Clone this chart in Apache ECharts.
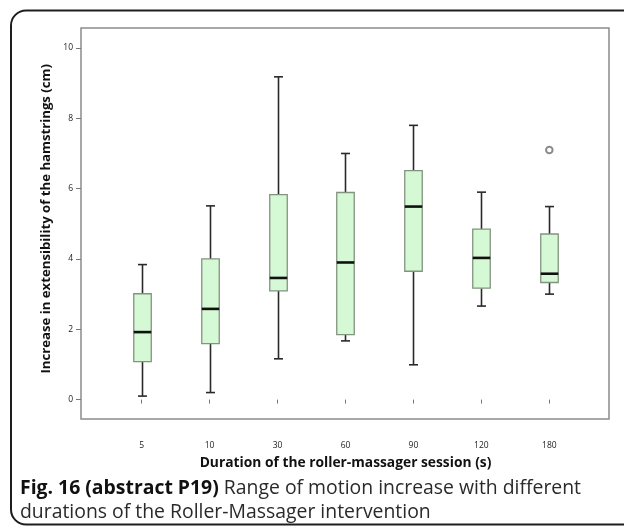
<!DOCTYPE html>
<html>
<head>
<meta charset="utf-8">
<script src="https://cdn.jsdelivr.net/npm/echarts@6/dist/echarts.min.js"></script>
<style>
  html, body { margin: 0; padding: 0; background: #fff; }
  #chart { width: 624px; height: 526px; }
</style>
</head>
<body>
<div id="chart"></div>
<script>
// ---- data ----
const categories = ['5', '10', '30', '60', '90', '120', '180'];
const lowerWhisker = [0.10, 0.20, 1.16, 1.67, 0.99, 2.66, 3.00];
const q1Values     = [1.08, 1.59, 3.09, 1.85, 3.65, 3.17, 3.33];
const medianValues = [1.92, 2.58, 3.46, 3.90, 5.49, 4.03, 3.58];
const q3Values     = [3.01, 4.00, 5.83, 5.89, 6.51, 4.85, 4.71];
const upperWhisker = [3.84, 5.51, 9.18, 7.00, 7.80, 5.90, 5.49];
const outlierCategory = ['180'];
const outlierValues = [7.10];
const yTicks = [0, 2, 4, 6, 8, 10];

const xTitle = 'Duration of the roller-massager session (s)';
const yTitle = 'Increase in extensibility of the hamstrings (cm)';
const captionBold = 'Fig. 16 (abstract P19)';
const captionLine1 = ' Range of motion increase with different';
const captionLine2 = 'durations of the Roller-Massager intervention';

// ---- build ----
const boxData = categories.map((c, i) => [i, lowerWhisker[i], q1Values[i], medianValues[i], q3Values[i], upperWhisker[i]]);
const outlierData = outlierCategory.map((c, i) => [categories.indexOf(c), outlierValues[i]]);

const chart = echarts.init(document.getElementById('chart'), null, { renderer: 'canvas' });
const FONT = "'Open Sans', 'DejaVu Sans', sans-serif";

function renderBox(params, api) {
  const idx = api.value(0);
  const pLow = api.coord([idx, api.value(1)]);
  const pQ1 = api.coord([idx, api.value(2)]);
  const pMed = api.coord([idx, api.value(3)]);
  const pQ3 = api.coord([idx, api.value(4)]);
  const pHigh = api.coord([idx, api.value(5)]);
  const cx = Math.round(pLow[0]) + 0.5;
  const boxW = 17.5, capW = 9;
  const whisk = { stroke: '#2a2a2a', lineWidth: 1.6 };
  return {
    type: 'group',
    children: [
      { type: 'line', shape: { x1: cx, y1: pLow[1], x2: cx, y2: pQ1[1] }, style: whisk },
      { type: 'line', shape: { x1: cx, y1: pQ3[1], x2: cx, y2: pHigh[1] }, style: whisk },
      { type: 'line', shape: { x1: cx - capW / 2, y1: pLow[1], x2: cx + capW / 2, y2: pLow[1] }, style: whisk },
      { type: 'line', shape: { x1: cx - capW / 2, y1: pHigh[1], x2: cx + capW / 2, y2: pHigh[1] }, style: whisk },
      { type: 'rect', shape: { x: cx - boxW / 2, y: pQ3[1], width: boxW, height: pQ1[1] - pQ3[1] },
        style: { fill: '#d5f8d5', stroke: '#83937f', lineWidth: 1.3 } },
      { type: 'line', shape: { x1: cx - boxW / 2, y1: pMed[1], x2: cx + boxW / 2, y2: pMed[1] },
        style: { stroke: '#111', lineWidth: 2.6 } }
    ]
  };
}

const option = {
  animation: false,
  backgroundColor: '#fff',
  grid: [
    { left: 81, right: 15, top: 28, bottom: 107, show: true, borderColor: '#8c8c8c', borderWidth: 1.5, backgroundColor: '#fff' },
    { left: 107.7, right: 40.7, top: 48, bottom: 126.4 }
  ],
  xAxis: [
    { gridIndex: 0, type: 'value', show: false, min: 0, max: 1 },
    {
      gridIndex: 1, type: 'category', data: categories, offset: 19.4,
      axisLine: { show: false },
      axisTick: { show: true, alignWithLabel: true, length: 4, lineStyle: { color: '#777', width: 1 } },
      axisLabel: { fontSize: 8.5, color: '#222', margin: 22, fontFamily: FONT },
      name: xTitle, nameLocation: 'middle', nameGap: 37,
      nameTextStyle: { fontSize: 13.8, fontWeight: 'bold', color: '#111', fontFamily: FONT }
    }
  ],
  yAxis: [
    { gridIndex: 0, type: 'value', show: false, min: 0, max: 1 },
    {
      gridIndex: 1, type: 'value', min: 0, max: 10, interval: 2, offset: 26.7,
      splitLine: { show: false },
      axisLine: { show: false },
      axisTick: { show: true, length: 5, lineStyle: { color: '#777', width: 1 } },
      axisLabel: { fontSize: 8.5, color: '#222', margin: 8, fontFamily: FONT,
        formatter: v => (yTicks.indexOf(v) >= 0 ? String(v) : '') },
      name: yTitle, nameLocation: 'middle', nameGap: 27, nameRotate: 90,
      nameTextStyle: { fontSize: 13.2, fontWeight: 'bold', color: '#111', fontFamily: FONT, padding: [0, 0, 0, 10] }
    }
  ],
  series: [
    {
      type: 'custom', xAxisIndex: 1, yAxisIndex: 1, clip: false,
      renderItem: renderBox,
      encode: { x: 0, y: [1, 2, 3, 4, 5] },
      data: boxData
    },
    {
      type: 'scatter', xAxisIndex: 1, yAxisIndex: 1, z: 5,
      symbol: 'emptyCircle', symbolSize: 6.5,
      itemStyle: { color: '#6e6e6e', borderColor: '#6e6e6e', borderWidth: 1.3 },
      data: outlierData
    }
  ],
  graphic: [
    {
      type: 'rect', silent: true, z: 100,
      shape: { x: 11, y: 10.5, width: 660, height: 514, r: 15 },
      style: { fill: 'none', stroke: '#1e1e1e', lineWidth: 2 }
    },
    {
      type: 'text', left: 20, top: 479, z: 100,
      style: {
        text: '{b|' + captionBold + '}' + captionLine1,
        font: "19.4px 'Open Sans', sans-serif",
        fill: '#2a2a2a',
        rich: { b: { fontWeight: 'bold', fontSize: 19.4, fontFamily: 'Open Sans', fill: '#111' } }
      }
    },
    {
      type: 'text', left: 20, top: 503, z: 100,
      style: { text: captionLine2, font: "19.4px 'Open Sans', sans-serif", fill: '#2a2a2a' }
    }
  ]
};

chart.setOption(option);
</script>
</body>
</html>
